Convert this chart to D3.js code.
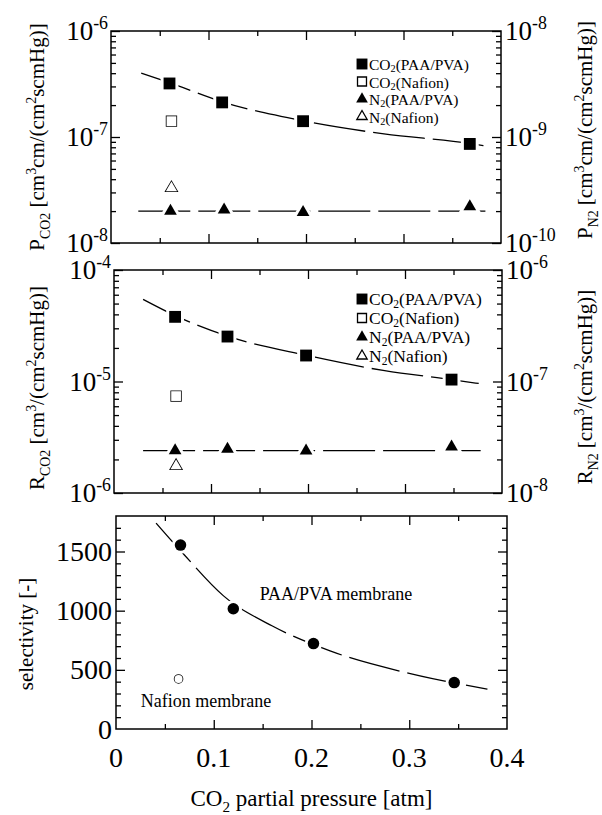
<!DOCTYPE html>
<html>
<head>
<meta charset="utf-8">
<script src="https://cdn.jsdelivr.net/npm/d3@7"></script>
<style>
  body { margin: 0; background: #fff; }
  svg { display: block; }
</style>
</head>
<body>
<script>
// ---- data ----
// x axis (CO2 partial pressure, atm)
var xMajor = [0, 0.1, 0.2, 0.3, 0.4];
var xMinor = [0.05, 0.15, 0.25, 0.35];
var xTickLabels = ["0", "0.1", "0.2", "0.3", "0.4"];

// top panel: permeability P
var pX = [0.060, 0.114, 0.197, 0.368];
var pN2X = [0.061, 0.116, 0.197, 0.368];
var pCO2 = [3.2e-7, 2.12e-7, 1.41e-7, 8.6e-8];
var pN2 = [2.0e-10, 2.06e-10, 1.95e-10, 2.2e-10];
var pNafionX = [0.062];
var pCO2Nafion = [1.41e-7];
var pN2Nafion = [3.3e-10];
var pCO2FitX = [0.031, 0.060, 0.114, 0.197, 0.280, 0.368, 0.382];
var pCO2FitY = [4.0e-7, 3.25e-7, 2.15e-7, 1.42e-7, 1.07e-7, 8.7e-8, 8.3e-8];
var pN2FitX = [0.028, 0.384];
var pN2FitY = [2.0e-10, 2.0e-10];

// middle panel: permeance R
var rX = [0.063, 0.117, 0.198, 0.348];
var rCO2 = [3.8e-5, 2.53e-5, 1.71e-5, 1.04e-5];
var rN2 = [2.4e-8, 2.48e-8, 2.39e-8, 2.6e-8];
var rNafionX = [0.064];
var rCO2Nafion = [7.4e-6];
var rN2Nafion = [1.75e-8];
var rCO2FitX = [0.030, 0.063, 0.117, 0.198, 0.279, 0.348, 0.376];
var rCO2FitY = [5.45e-5, 3.9e-5, 2.55e-5, 1.72e-5, 1.25e-5, 1.04e-5, 9.6e-6];
var rN2FitX = [0.030, 0.378];
var rN2FitY = [2.4e-8, 2.4e-8];

// bottom panel: selectivity
var sX = [0.066, 0.120, 0.202, 0.346];
var sPAA = [1554, 1016, 722, 392];
var sNafionX = [0.064];
var sNafion = [423];
var sFitX = [0.041, 0.070, 0.110, 0.160, 0.219, 0.300, 0.380];
var sFitY = [1740, 1470, 1125, 870, 660, 470, 337];
var sMajor = [0, 500, 1000, 1500];
var sMinor = d3.range(100, 1800, 100);

// legend labels: [text, kind]
var legendRows = [
    {mark: "sqF", parts: [["CO", "n"], ["2", "sub"], ["(PAA/PVA)", "n"]]},
    {mark: "sqO", parts: [["CO", "n"], ["2", "sub"], ["(Nafion)", "n"]]},
    {mark: "triF", parts: [["N", "n"], ["2", "sub"], ["(PAA/PVA)", "n"]]},
    {mark: "triO", parts: [["N", "n"], ["2", "sub"], ["(Nafion)", "n"]]}
];

var w = 602, h = 815;
var FONT = "'Liberation Serif', 'Times New Roman', serif";

var svg = d3.select("body").append("svg")
    .attr("width", w)
    .attr("height", h)
    .style("font-family", FONT);

// panel boxes
var topBox = {x0: 111, x1: 501, y0: 31, y1: 243};
var midBox = {x0: 114, x1: 502, y0: 270, y1: 493};
var botBox = {x0: 116, x1: 507, y0: 516, y1: 729};

function zip(a, b) {
    return a.map(function(v, i) { return [v, b[i]]; });
}

// text with sub/superscripts
function rich(t, parts, base, subShift) {
    var shift = 0;
    var sub = subShift || 0.28;
    parts.forEach(function(p) {
        var target = p[1] === "sup" ? -0.4 * base : p[1] === "sub" ? sub * base : 0;
        t.append("tspan")
            .attr("dy", target - shift)
            .attr("font-size", p[1] === "n" ? base : base * 0.66)
            .text(p[0]);
        shift = target;
    });
    return t;
}

function frame(box) {
    svg.append("rect")
        .attr("x", box.x0).attr("y", box.y0)
        .attr("width", box.x1 - box.x0).attr("height", box.y1 - box.y0)
        .attr("fill", "none").attr("stroke", "#000").attr("stroke-width", 1.5);
}

function tickAxis(axis, pos, values, len) {
    var g = svg.append("g")
        .attr("transform", pos)
        .call(axis.tickValues(values).tickSizeInner(-len).tickSizeOuter(0).tickFormat(""));
    g.select(".domain").remove();
    g.selectAll("line").attr("stroke", "#000").attr("stroke-width", 1.3);
    return g;
}

function xTicks(x, box) {
    tickAxis(d3.axisBottom(x), "translate(0," + box.y1 + ")", xMajor.slice(1, -1), 9);
    tickAxis(d3.axisBottom(x), "translate(0," + box.y1 + ")", xMinor, 5);
    tickAxis(d3.axisTop(x), "translate(0," + box.y0 + ")", xMajor.slice(1, -1), 9);
    tickAxis(d3.axisTop(x), "translate(0," + box.y0 + ")", xMinor, 5);
}

function logTicks(y, box, side) {
    var ax = side === "left" ? d3.axisLeft(y) : d3.axisRight(y);
    var pos = "translate(" + (side === "left" ? box.x0 : box.x1) + ",0)";
    var all = y.ticks();
    var major = all.filter(function(v) { return Math.abs(Math.log10(v) - Math.round(Math.log10(v))) < 1e-6; });
    var minor = all.filter(function(v) { return major.indexOf(v) < 0; });
    tickAxis(ax, pos, major, 9);
    tickAxis(ax, pos, minor, 5);
    major.forEach(function(v) {
        var e = Math.round(Math.log10(v));
        var t = svg.append("text")
            .attr("x", side === "left" ? box.x0 - 3 : box.x1 + 4)
            .attr("y", y(v) + 9)
            .attr("text-anchor", side === "left" ? "end" : "start");
        rich(t, [["10", "n"], [String(e), "sup"]], 27);
    });
}

function yTitle(cx, cy, parts, size) {
    var t = svg.append("text")
        .attr("transform", "translate(" + cx + "," + cy + ") rotate(-90)")
        .attr("text-anchor", "middle");
    rich(t, parts, size);
}

function fitLine(x, y, pts) {
    svg.append("path")
        .datum(pts)
        .attr("d", d3.line()
            .x(function(d) { return x(d[0]); })
            .y(function(d) { return y(d[1]); })
            .curve(d3.curveMonotoneX))
        .attr("fill", "none")
        .attr("stroke", "#000")
        .attr("stroke-width", 1.3)
        .attr("stroke-dasharray", "52,8");
}

var symbols = {
    sqF: {type: d3.symbolSquare, size: 140, fill: "#000"},
    sqO: {type: d3.symbolSquare, size: 95, fill: "#fff"},
    triF: {type: d3.symbolTriangle, size: 70, fill: "#000"},
    triO: {type: d3.symbolTriangle, size: 55, fill: "#fff"},
    cirF: {type: d3.symbolCircle, size: 104, fill: "#000"},
    cirO: {type: d3.symbolCircle, size: 50, fill: "#fff"}
};

function marks(x, y, pts, kind) {
    var s = symbols[kind];
    var filled = s.fill === "#000";
    svg.append("g").selectAll("path")
        .data(pts)
        .enter()
        .append("path")
        .attr("transform", function(d) { return "translate(" + x(d[0]) + "," + y(d[1]) + ")"; })
        .attr("d", d3.symbol().type(s.type).size(s.size))
        .attr("fill", s.fill)
        .attr("stroke", filled ? "#fff" : "#000")
        .attr("stroke-width", filled ? 6 : 1.6)
        .style("paint-order", "stroke");
}

function legend(x0, yFirst, step, size) {
    legendRows.forEach(function(r, i) {
        var cy = yFirst + i * step;
        var s = symbols[r.mark];
        svg.append("path")
            .attr("transform", "translate(" + (x0 + 5) + "," + cy + ")")
            .attr("d", d3.symbol().type(s.type).size(s.size * 0.85))
            .attr("fill", s.fill)
            .attr("stroke", "#000")
            .attr("stroke-width", s.fill === "#000" ? 0 : 1.3);
        var t = svg.append("text").attr("x", x0 + 12).attr("y", cy + 6);
        rich(t, r.parts, size, 0.15);
    });
}

// ---------- top panel ----------
var xTop = d3.scaleLinear().domain([0, 0.4]).range([topBox.x0, topBox.x1]);
var yTopL = d3.scaleLog().domain([1e-8, 1e-6]).range([topBox.y1, topBox.y0]);
var yTopR = d3.scaleLog().domain([1e-10, 1e-8]).range([topBox.y1, topBox.y0]);

frame(topBox);
xTicks(xTop, topBox);
logTicks(yTopL, topBox, "left");
logTicks(yTopR, topBox, "right");
fitLine(xTop, yTopL, zip(pCO2FitX, pCO2FitY));
fitLine(xTop, yTopR, zip(pN2FitX, pN2FitY));
marks(xTop, yTopL, zip(pX, pCO2), "sqF");
marks(xTop, yTopL, zip(pNafionX, pCO2Nafion), "sqO");
marks(xTop, yTopR, zip(pN2X, pN2), "triF");
marks(xTop, yTopR, zip(pNafionX, pN2Nafion), "triO");
legend(357, 64, 17.5, 15.5);

yTitle(44, 137, [["P", "n"], ["CO2", "sub"], [" [cm", "n"], ["3", "sup"], ["cm/(cm", "n"], ["2", "sup"], ["scmHg)]", "n"]], 21);
yTitle(592, 130, [["P", "n"], ["N2", "sub"], [" [cm", "n"], ["3", "sup"], ["cm/(cm", "n"], ["2", "sup"], ["scmHg)]", "n"]], 21);

// ---------- middle panel ----------
var xMid = d3.scaleLinear().domain([0, 0.4]).range([midBox.x0, midBox.x1]);
var yMidL = d3.scaleLog().domain([1e-6, 1e-4]).range([midBox.y1, midBox.y0]);
var yMidR = d3.scaleLog().domain([1e-8, 1e-6]).range([midBox.y1, midBox.y0]);

frame(midBox);
xTicks(xMid, midBox);
logTicks(yMidL, midBox, "left");
logTicks(yMidR, midBox, "right");
fitLine(xMid, yMidL, zip(rCO2FitX, rCO2FitY));
fitLine(xMid, yMidR, zip(rN2FitX, rN2FitY));
marks(xMid, yMidL, zip(rX, rCO2), "sqF");
marks(xMid, yMidL, zip(rNafionX, rCO2Nafion), "sqO");
marks(xMid, yMidR, zip(rX, rN2), "triF");
marks(xMid, yMidR, zip(rNafionX, rN2Nafion), "triO");
legend(357, 299, 19, 17.5);

yTitle(44, 388, [["R", "n"], ["CO2", "sub"], [" [cm", "n"], ["3", "sup"], ["/(cm", "n"], ["2", "sup"], ["scmHg)]", "n"]], 21);
yTitle(592, 387, [["R", "n"], ["N2", "sub"], [" [cm", "n"], ["3", "sup"], ["/(cm", "n"], ["2", "sup"], ["scmHg)]", "n"]], 21);

// ---------- bottom panel ----------
var xBot = d3.scaleLinear().domain([0, 0.4]).range([botBox.x0, botBox.x1]);
var yBot = d3.scaleLinear().domain([0, 1800]).range([botBox.y1, botBox.y0]);

frame(botBox);
xTicks(xBot, botBox);
var pos0 = "translate(" + botBox.x0 + ",0)", pos1 = "translate(" + botBox.x1 + ",0)";
tickAxis(d3.axisLeft(yBot), pos0, sMajor.slice(1), 9);
tickAxis(d3.axisLeft(yBot), pos0, sMinor.filter(function(v) { return v % 500; }), 5);
tickAxis(d3.axisRight(yBot), pos1, sMajor.slice(1), 9);
tickAxis(d3.axisRight(yBot), pos1, sMinor.filter(function(v) { return v % 500; }), 5);

svg.append("g").selectAll("text")
    .data(sMajor)
    .enter()
    .append("text")
    .attr("x", botBox.x0 - 4)
    .attr("y", function(d) { return yBot(d) + 9.5; })
    .attr("text-anchor", "end")
    .attr("font-size", 28)
    .text(function(d) { return d; });

svg.append("g").selectAll("text")
    .data(xMajor)
    .enter()
    .append("text")
    .attr("x", function(d) { return xBot(d); })
    .attr("y", botBox.y1 + 38)
    .attr("text-anchor", "middle")
    .attr("font-size", 28)
    .text(function(d, i) { return xTickLabels[i]; });

fitLine(xBot, yBot, zip(sFitX, sFitY));
marks(xBot, yBot, zip(sX, sPAA), "cirF");
marks(xBot, yBot, zip(sNafionX, sNafion), "cirO");

svg.append("text")
    .attr("x", xBot(0.147)).attr("y", yBot(1143) + 6)
    .attr("font-size", 18)
    .text("PAA/PVA membrane");
svg.append("text")
    .attr("x", xBot(0.0254)).attr("y", yBot(234) + 6)
    .attr("font-size", 18)
    .text("Nafion membrane");

yTitle(33, 634, [["selectivity [-]", "n"]], 21);

var xt = svg.append("text")
    .attr("x", (botBox.x0 + botBox.x1) / 2)
    .attr("y", 806)
    .attr("text-anchor", "middle");
rich(xt, [["CO", "n"], ["2", "sub"], [" partial pressure [atm]", "n"]], 23);
</script>
</body>
</html>
